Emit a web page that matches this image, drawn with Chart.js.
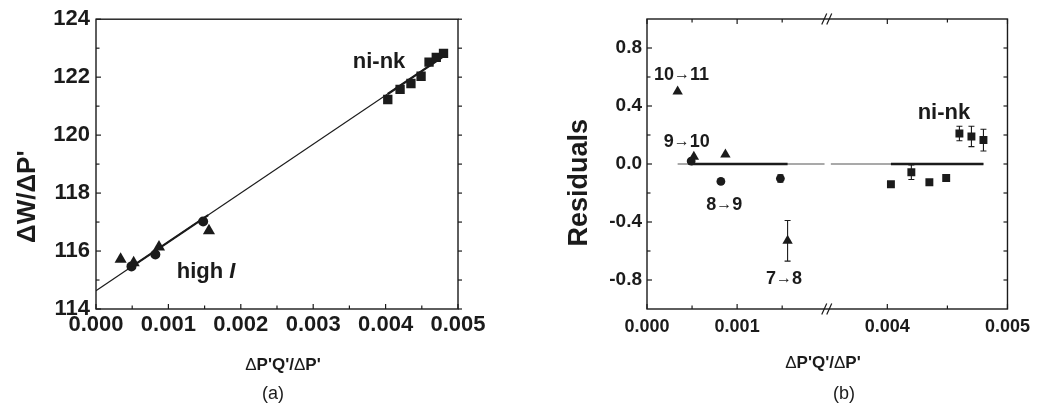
<!DOCTYPE html>
<html>
<head>
<meta charset="utf-8">
<script src="https://cdn.jsdelivr.net/npm/chart.js@4.4.1/dist/chart.umd.min.js"></script>
<style>
  body { margin: 0; background: #fff; }
  #wrap { position: relative; width: 1037px; height: 405px; overflow: hidden; background: #fff; }
  canvas { position: absolute; top: 0; }
  #chartA { left: 0; }
  #chartB { left: 520px; }
  .cap { position: absolute; top: 383px; line-height: 20px; font: 18px "Liberation Sans", Arial, sans-serif; color: #1b1b1b; transform: translateX(-50%); }
</style>
</head>
<body>
<div id="wrap">
  <canvas id="chartA" width="520" height="405"></canvas>
  <canvas id="chartB" width="517" height="405"></canvas>
  <div class="cap" style="left:273px">(a)</div>
  <div class="cap" style="left:844px">(b)</div>
</div>
<script>
const FONT = '"Liberation Sans", Arial, Helvetica, sans-serif';
const INK = '#1b1b1b';

// (a) ΔW/ΔP' against ΔP'Q'/ΔP'
const triX = [0.00034, 0.00052, 0.00087, 0.00156];
const triW = [115.72, 115.6, 116.14, 116.7];
const circX = [0.00049, 0.00082, 0.00148];
const circW = [115.47, 115.88, 117.02];
const sqX = [0.00403, 0.0042, 0.00435, 0.00449, 0.0046, 0.0047, 0.0048];
const sqW = [121.23, 121.58, 121.78, 122.03, 122.52, 122.68, 122.82];
const fitX = [0, 0.0048];
const fitW = [114.63, 122.72];
const fitLowX = [0.0005, 0.00155];
const fitLowW = [115.47, 117.24];
const fitHighX = [0.00403, 0.0048];
const fitHighW = [121.42, 122.72];
const xTicksA = [0, 0.001, 0.002, 0.003, 0.004, 0.005];
const xMinorA = [0.0005, 0.0015, 0.0025, 0.0035, 0.0045];
const yTicksA = [114, 116, 118, 120, 122, 124];
const yMinorA = [115, 117, 119, 121, 123];

// (b) residuals, x axis broken between 0.002 and 0.0035
const triRes = [0.50, 0.05, 0.065, -0.53];
const triErr = [0, 0, 0, 0.14];
const circRes = [0.02, -0.12, -0.10];
const circErr = [0, 0, 0.025];
const sqRes = [-0.14, -0.057, -0.126, -0.096, 0.21, 0.19, 0.165];
const sqErr = [0, 0.05, 0, 0, 0.05, 0.07, 0.075];
const zeroLowX = [0.00034, 0.00197];
const zeroHighX = [0.00353, 0.0048];
const zeroBoldLowX = [0.00049, 0.00156];
const zeroBoldHighX = [0.00403, 0.0048];
const xTicksB1 = [0, 0.001];
const xMinorB1 = [0.0005, 0.0015];
const xTicksB2 = [0.004, 0.005];
const xMinorB2 = [0.0045];
const yTicksB = [-0.8, -0.4, 0, 0.4, 0.8];
const yMinorB = [-0.6, -0.2, 0.2, 0.6];

const pts = (xs, ys) => xs.map((x, i) => ({x, y: ys[i]}));
const zeros = xs => xs.map(() => 0);
const bold = s => `bold ${s}px ${FONT}`;
const plain = s => `${s}px ${FONT}`;

function marks(xs, ys, style, r, extra) {
  return Object.assign({
    data: pts(xs, ys), pointStyle: style, pointRadius: r,
    backgroundColor: INK, borderColor: INK, borderWidth: 0, showLine: false
  }, extra);
}
function line(xs, ys, w, color, extra) {
  return Object.assign({
    data: pts(xs, ys), showLine: true, pointRadius: 0,
    borderColor: color || INK, borderWidth: w, fill: false
  }, extra);
}

// box round the plot, inward ticks, break marks
const frame = {
  id: 'frame',
  afterDraw(chart, args, opts) {
    const {ctx, chartArea: a} = chart;
    ctx.save();
    ctx.strokeStyle = INK;
    ctx.lineWidth = 1.4;
    ctx.strokeRect(a.left, a.top, a.right - a.left, a.bottom - a.top);
    ctx.lineWidth = 1.2;
    for (const t of opts.ticks) {
      const sc = chart.scales[t.scale];
      const dir = t.out ? -1 : 1;
      const tick = (v, len) => {
        const p = sc.getPixelForValue(v);
        ctx.beginPath();
        if (t.edge === 'bottom') { ctx.moveTo(p, a.bottom); ctx.lineTo(p, a.bottom - len * dir); }
        if (t.edge === 'top') { ctx.moveTo(p, a.top); ctx.lineTo(p, a.top + len * dir); }
        if (t.edge === 'left') { ctx.moveTo(a.left, p); ctx.lineTo(a.left + len * dir, p); }
        if (t.edge === 'right') { ctx.moveTo(a.right, p); ctx.lineTo(a.right - len * dir, p); }
        ctx.stroke();
      };
      (t.major || []).forEach(v => tick(v, t.len || 5));
      (t.minor || []).forEach(v => tick(v, t.len || 3.5));
    }
    if (opts.breakAt) {
      const x = chart.scales[opts.breakAt].right;
      for (const y of [a.top, a.bottom]) {
        for (const off of [-3, 2]) {
          ctx.beginPath();
          ctx.moveTo(x + off - 2.5, y + 5.5);
          ctx.lineTo(x + off + 2.5, y - 5.5);
          ctx.stroke();
        }
      }
    }
    ctx.restore();
  }
};

const errorBars = {
  id: 'errorBars',
  afterDatasetsDraw(chart) {
    const {ctx} = chart;
    chart.data.datasets.forEach((ds, i) => {
      if (!ds.errors) return;
      const meta = chart.getDatasetMeta(i);
      const ys = chart.scales[meta.yAxisID];
      ctx.save();
      ctx.strokeStyle = INK;
      ctx.lineWidth = 1.1;
      meta.data.forEach((pt, j) => {
        const e = ds.errors[j];
        if (!e) return;
        const v = ds.data[j].y;
        const top = ys.getPixelForValue(v + e), bot = ys.getPixelForValue(v - e);
        ctx.beginPath();
        ctx.moveTo(pt.x, top); ctx.lineTo(pt.x, bot);
        ctx.moveTo(pt.x - 3, top); ctx.lineTo(pt.x + 3, top);
        ctx.moveTo(pt.x - 3, bot); ctx.lineTo(pt.x + 3, bot);
        ctx.stroke();
      });
      ctx.restore();
    });
  }
};

// text made of runs with their own fonts, centred on a point
function drawRuns(ctx, runs, x, y, rotate) {
  ctx.save();
  ctx.translate(x, y);
  if (rotate) ctx.rotate(rotate);
  ctx.textBaseline = 'middle';
  ctx.textAlign = 'left';
  ctx.fillStyle = INK;
  const widths = runs.map(([t, f]) => { ctx.font = f; return ctx.measureText(t).width; });
  let cx = -widths.reduce((s, w) => s + w, 0) / 2;
  runs.forEach(([t, f], i) => { ctx.font = f; ctx.fillText(t, cx, 0); cx += widths[i]; });
  ctx.restore();
}

const notes = {
  id: 'notes',
  afterDraw(chart, args, opts) {
    for (const n of opts.items) {
      let x = n.px, y = n.py;
      if (n.xs) {
        x = chart.scales[n.xs].getPixelForValue(n.x);
        y = chart.scales[n.ys].getPixelForValue(n.y);
      }
      drawRuns(chart.ctx, n.runs, x, y, n.rot);
    }
  }
};

function tickScale(values, fmt, font, pad, fit) {
  return {
    type: 'linear',
    afterBuildTicks: s => { s.ticks = values.map(v => ({value: v})); },
    afterFit: fit,
    grid: {display: false, drawTicks: false},
    border: {display: false},
    ticks: {font: font, color: INK, padding: pad, autoSkip: false, maxRotation: 0, callback: v => v.toFixed(fmt)}
  };
}

const common = {
  responsive: false,
  animation: false,
  events: []
};

new Chart(document.getElementById('chartA'), {
  type: 'scatter',
  data: {datasets: [
    marks(triX, triW, 'triangle', 7),
    marks(circX, circW, 'circle', 5),
    marks(sqX, sqW, 'rect', 6.6),
    line(fitLowX, fitLowW, 2.2),
    line(fitHighX, fitHighW, 2.2),
    line(fitX, fitW, 1.1)
  ]},
  options: Object.assign({}, common, {
    layout: {padding: {top: 17, right: 62, left: 0, bottom: 0}},
    plugins: {
      legend: {display: false},
      tooltip: {enabled: false},
      frame: {ticks: [
        {scale: 'x', edge: 'bottom', major: xTicksA, minor: xMinorA},
        {scale: 'y', edge: 'left', major: yTicksA, minor: yMinorA},
        {scale: 'y', edge: 'right', major: yTicksA.concat(yMinorA), out: true, len: 4}
      ]},
      notes: {items: [
        {xs: 'x', ys: 'y', x: 0.00391, y: 122.53, runs: [['ni-nk', bold(22)]]},
        {xs: 'x', ys: 'y', x: 0.00152, y: 115.27, runs: [['high ', bold(22)], ['I', 'italic ' + bold(22)]]},
        {px: 27.5, py: 196.7, rot: -Math.PI / 2, runs: [['ΔW/ΔP\'', bold(26)]]},
        {px: 283, py: 365, runs: [['Δ', plain(17)], ['P\'Q\'/', bold(17)], ['Δ', plain(17)], ['P\'', bold(17)]]}
      ]}
    },
    scales: {
      x: Object.assign(tickScale(xTicksA, 3, {family: FONT, size: 22, weight: 'bold'}, 3, s => { s.height = 96; }), {min: 0, max: 0.005}),
      y: Object.assign(tickScale(yTicksA, 0, {family: FONT, size: 22, weight: 'bold'}, 6, s => { s.width = 96; }), {min: 114, max: 124})
    }
  }),
  plugins: [frame, errorBars, notes]
});

const xb = {xAxisID: 'x1'};
const xh = {xAxisID: 'x2'};
const tickB = {family: FONT, size: 18, weight: 'bold'};

new Chart(document.getElementById('chartB'), {
  type: 'scatter',
  data: {datasets: [
    marks(triX, triRes, 'triangle', 6, Object.assign({errors: triErr}, xb)),
    marks(circX, circRes, 'circle', 4.4, Object.assign({errors: circErr}, xb)),
    marks(sqX, sqRes, 'rect', 5.6, Object.assign({errors: sqErr}, xh)),
    line(zeroBoldLowX, zeros(zeroBoldLowX), 2.4, INK, xb),
    line(zeroBoldHighX, zeros(zeroBoldHighX), 2.4, INK, xh),
    line(zeroLowX, zeros(zeroLowX), 1.3, '#8c8c8c', xb),
    line(zeroHighX, zeros(zeroHighX), 1.3, '#8c8c8c', xh)
  ]},
  options: Object.assign({}, common, {
    layout: {padding: {top: 19, right: 27, left: 0, bottom: 0}},
    plugins: {
      legend: {display: false},
      tooltip: {enabled: false},
      frame: {breakAt: 'x1', ticks: [
        {scale: 'x1', edge: 'bottom', major: xTicksB1, minor: xMinorB1},
        {scale: 'x2', edge: 'bottom', major: xTicksB2, minor: xMinorB2},
        {scale: 'x1', edge: 'top', major: xTicksB1, minor: xMinorB1},
        {scale: 'x2', edge: 'top', major: xTicksB2, minor: xMinorB2},
        {scale: 'y', edge: 'left', major: yTicksB, minor: yMinorB},
        {scale: 'y', edge: 'right', major: yTicksB.concat(yMinorB), len: 4}
      ]},
      notes: {items: [
        {xs: 'x1', ys: 'y', x: 0.000382, y: 0.614, runs: [['10', bold(18)], ['→', plain(16)], ['11', bold(18)]]},
        {xs: 'x1', ys: 'y', x: 0.00044, y: 0.154, runs: [['9', bold(18)], ['→', plain(16)], ['10', bold(18)]]},
        {xs: 'x1', ys: 'y', x: 0.000856, y: -0.283, runs: [['8', bold(18)], ['→', plain(16)], ['9', bold(18)]]},
        {xs: 'x1', ys: 'y', x: 0.00152, y: -0.793, runs: [['7', bold(18)], ['→', plain(16)], ['8', bold(18)]]},
        {xs: 'x2', ys: 'y', x: 0.004471, y: 0.355, runs: [['ni-nk', bold(22)]]},
        {px: 60, py: 182.7, rot: -Math.PI / 2, runs: [['Residuals', bold(27)]]},
        {px: 303, py: 363, runs: [['Δ', plain(17)], ['P\'Q\'/', bold(17)], ['Δ', plain(17)], ['P\'', bold(17)]]}
      ]}
    },
    scales: {
      x1: Object.assign(tickScale(xTicksB1, 3, tickB, 7, s => { s.height = 96; }),
        {position: 'bottom', stack: 'brk', stackWeight: 1, min: 0, max: 0.002}),
      x2: Object.assign(tickScale(xTicksB2, 3, tickB, 7, s => { s.height = 96; }),
        {position: 'bottom', stack: 'brk', stackWeight: 1, min: 0.0035, max: 0.005}),
      y: Object.assign(tickScale(yTicksB, 1, {family: FONT, size: 19, weight: 'bold'}, 5, s => { s.width = 127; }),
        {min: -1, max: 1})
    }
  }),
  plugins: [frame, errorBars, notes]
});
</script>
</body>
</html>
